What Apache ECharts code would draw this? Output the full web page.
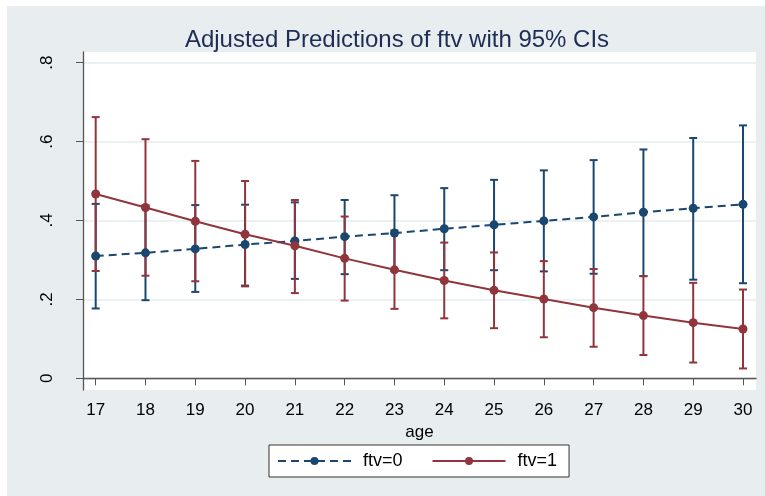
<!DOCTYPE html>
<html>
<head>
<meta charset="utf-8">
<script src="https://cdn.jsdelivr.net/npm/echarts@6/dist/echarts.min.js"></script>
<style>
html,body{margin:0;padding:0;background:#ffffff;}
#bg{position:absolute;left:7px;top:6px;width:758px;height:490px;background:#e8eeef;}
#c{position:absolute;left:0;top:0;width:765px;height:496px;}
</style>
</head>
<body>
<div id="bg"></div>
<div id="c"></div>
<script>
// ---- data ----
const ages = [17,18,19,20,21,22,23,24,25,26,27,28,29,30];
const ftv0 = [0.310,0.318,0.328,0.339,0.348,0.359,0.368,0.379,0.389,0.399,0.409,0.421,0.431,0.441];
const ftv0Low = [0.177,0.198,0.219,0.235,0.252,0.264,0.272,0.274,0.274,0.271,0.265,0.259,0.250,0.241];
const ftv0High = [0.442,0.438,0.439,0.440,0.446,0.452,0.464,0.482,0.503,0.527,0.553,0.580,0.609,0.641];
const ftv1 = [0.467,0.433,0.398,0.365,0.336,0.304,0.275,0.248,0.223,0.201,0.179,0.159,0.141,0.125];
const ftv1Low = [0.272,0.260,0.246,0.233,0.216,0.197,0.176,0.152,0.127,0.104,0.080,0.059,0.040,0.025];
const ftv1High = [0.662,0.606,0.551,0.500,0.452,0.410,0.375,0.344,0.319,0.297,0.277,0.259,0.242,0.225];
const xTicks = [17,18,19,20,21,22,23,24,25,26,27,28,29,30];
const yTicks = [0,0.2,0.4,0.6,0.8];
const yTickLabels = ['0','.2','.4','.6','.8'];

const BLUE = '#1a476f';
const RED = '#90353b';
const FONT = '"Liberation Sans", Arial, sans-serif';

function errBar(color){
  return function(params, api){
    const x = api.value(0);
    const lo = api.coord([x, api.value(1)]);
    const hi = api.coord([x, api.value(2)]);
    const w = 4;
    const st = {stroke: color, lineWidth: 2};
    return {type:'group', children:[
      {type:'line', shape:{x1:lo[0],y1:lo[1],x2:hi[0],y2:hi[1]}, style:st},
      {type:'line', shape:{x1:lo[0]-w,y1:lo[1],x2:lo[0]+w,y2:lo[1]}, style:st},
      {type:'line', shape:{x1:hi[0]-w,y1:hi[1],x2:hi[0]+w,y2:hi[1]}, style:st}
    ]};
  };
}

const chart = echarts.init(document.getElementById('c'), null, {renderer:'canvas'});
chart.setOption({
  backgroundColor: 'transparent',
  animation: false,
  textStyle: {fontFamily: FONT},
  title: {
    text: 'Adjusted Predictions of ftv with 95% CIs',
    left: 392, top: 23, textAlign: 'center',
    textStyle: {fontFamily: FONT, fontSize: 24, fontWeight: 'normal', color: '#1f2d55'}
  },
  legend: {
    data: ['ftv=0','ftv=1'],
    left: 269, top: 445,
    padding: [7, 12, 7, 8],
    itemWidth: 73, itemHeight: 10, itemGap: 29,
    backgroundColor: '#ffffff', borderColor: '#333333', borderWidth: 1, borderRadius: 0,
    textStyle: {fontFamily: FONT, fontSize: 18, color: '#000', padding: [0,0,0,7]}
  },
  grid: {left: 83, right: 9, top: 52, height: 338, show: true, backgroundColor: '#ffffff', borderWidth: 0},
  xAxis: {
    type: 'value', min: 16.745, max: 30.261,
    name: 'age', nameLocation: 'middle', nameGap: 32,
    nameTextStyle: {fontFamily: FONT, fontSize: 17, color: '#000'},
    axisLine: {show: true, lineStyle: {color: '#555', width: 1.3}},
    axisTick: {show: true, length: 7, lineStyle: {color: '#555'}, customValues: xTicks},
    axisLabel: {fontFamily: FONT, fontSize: 17, color: '#000', margin: 12, customValues: xTicks},
    splitLine: {show: false}
  },
  yAxis: {
    type: 'value', min: -0.0296, max: 0.827,
    axisLine: {show: true, lineStyle: {color: '#555', width: 1.3}},
    axisTick: {show: true, length: 7, lineStyle: {color: '#555'}, customValues: yTicks},
    axisLabel: {fontFamily: FONT, fontSize: 17, color: '#000', rotate: 90, margin: 27,
      customValues: yTicks,
      formatter: function(v){ const i = yTicks.findIndex(t => Math.abs(t - v) < 1e-6); return i >= 0 ? yTickLabels[i] : ''; }},
    splitLine: {show: true, lineStyle: {color: '#e6eced', width: 1.5}}
  },
  series: [
    {name: 'ci0', type: 'custom', renderItem: errBar(BLUE), encode: {x: 0, y: [1, 2]}, z: 1,
     data: ages.map((a, i) => [a, ftv0Low[i], ftv0High[i]])},
    {name: 'ci1', type: 'custom', renderItem: errBar(RED), encode: {x: 0, y: [1, 2]}, z: 2,
     data: ages.map((a, i) => [a, ftv1Low[i], ftv1High[i]])},
    {name: 'ftv=0', type: 'line', z: 3, symbol: 'circle', symbolSize: 9,
     itemStyle: {color: BLUE}, lineStyle: {color: BLUE, width: 2, type: [8, 5]},
     data: ages.map((a, i) => [a, ftv0[i]])},
    {name: 'ftv=1', type: 'line', z: 4, symbol: 'circle', symbolSize: 9,
     itemStyle: {color: RED}, lineStyle: {color: RED, width: 2},
     data: ages.map((a, i) => [a, ftv1[i]])}
  ]
});
</script>
</body>
</html>
